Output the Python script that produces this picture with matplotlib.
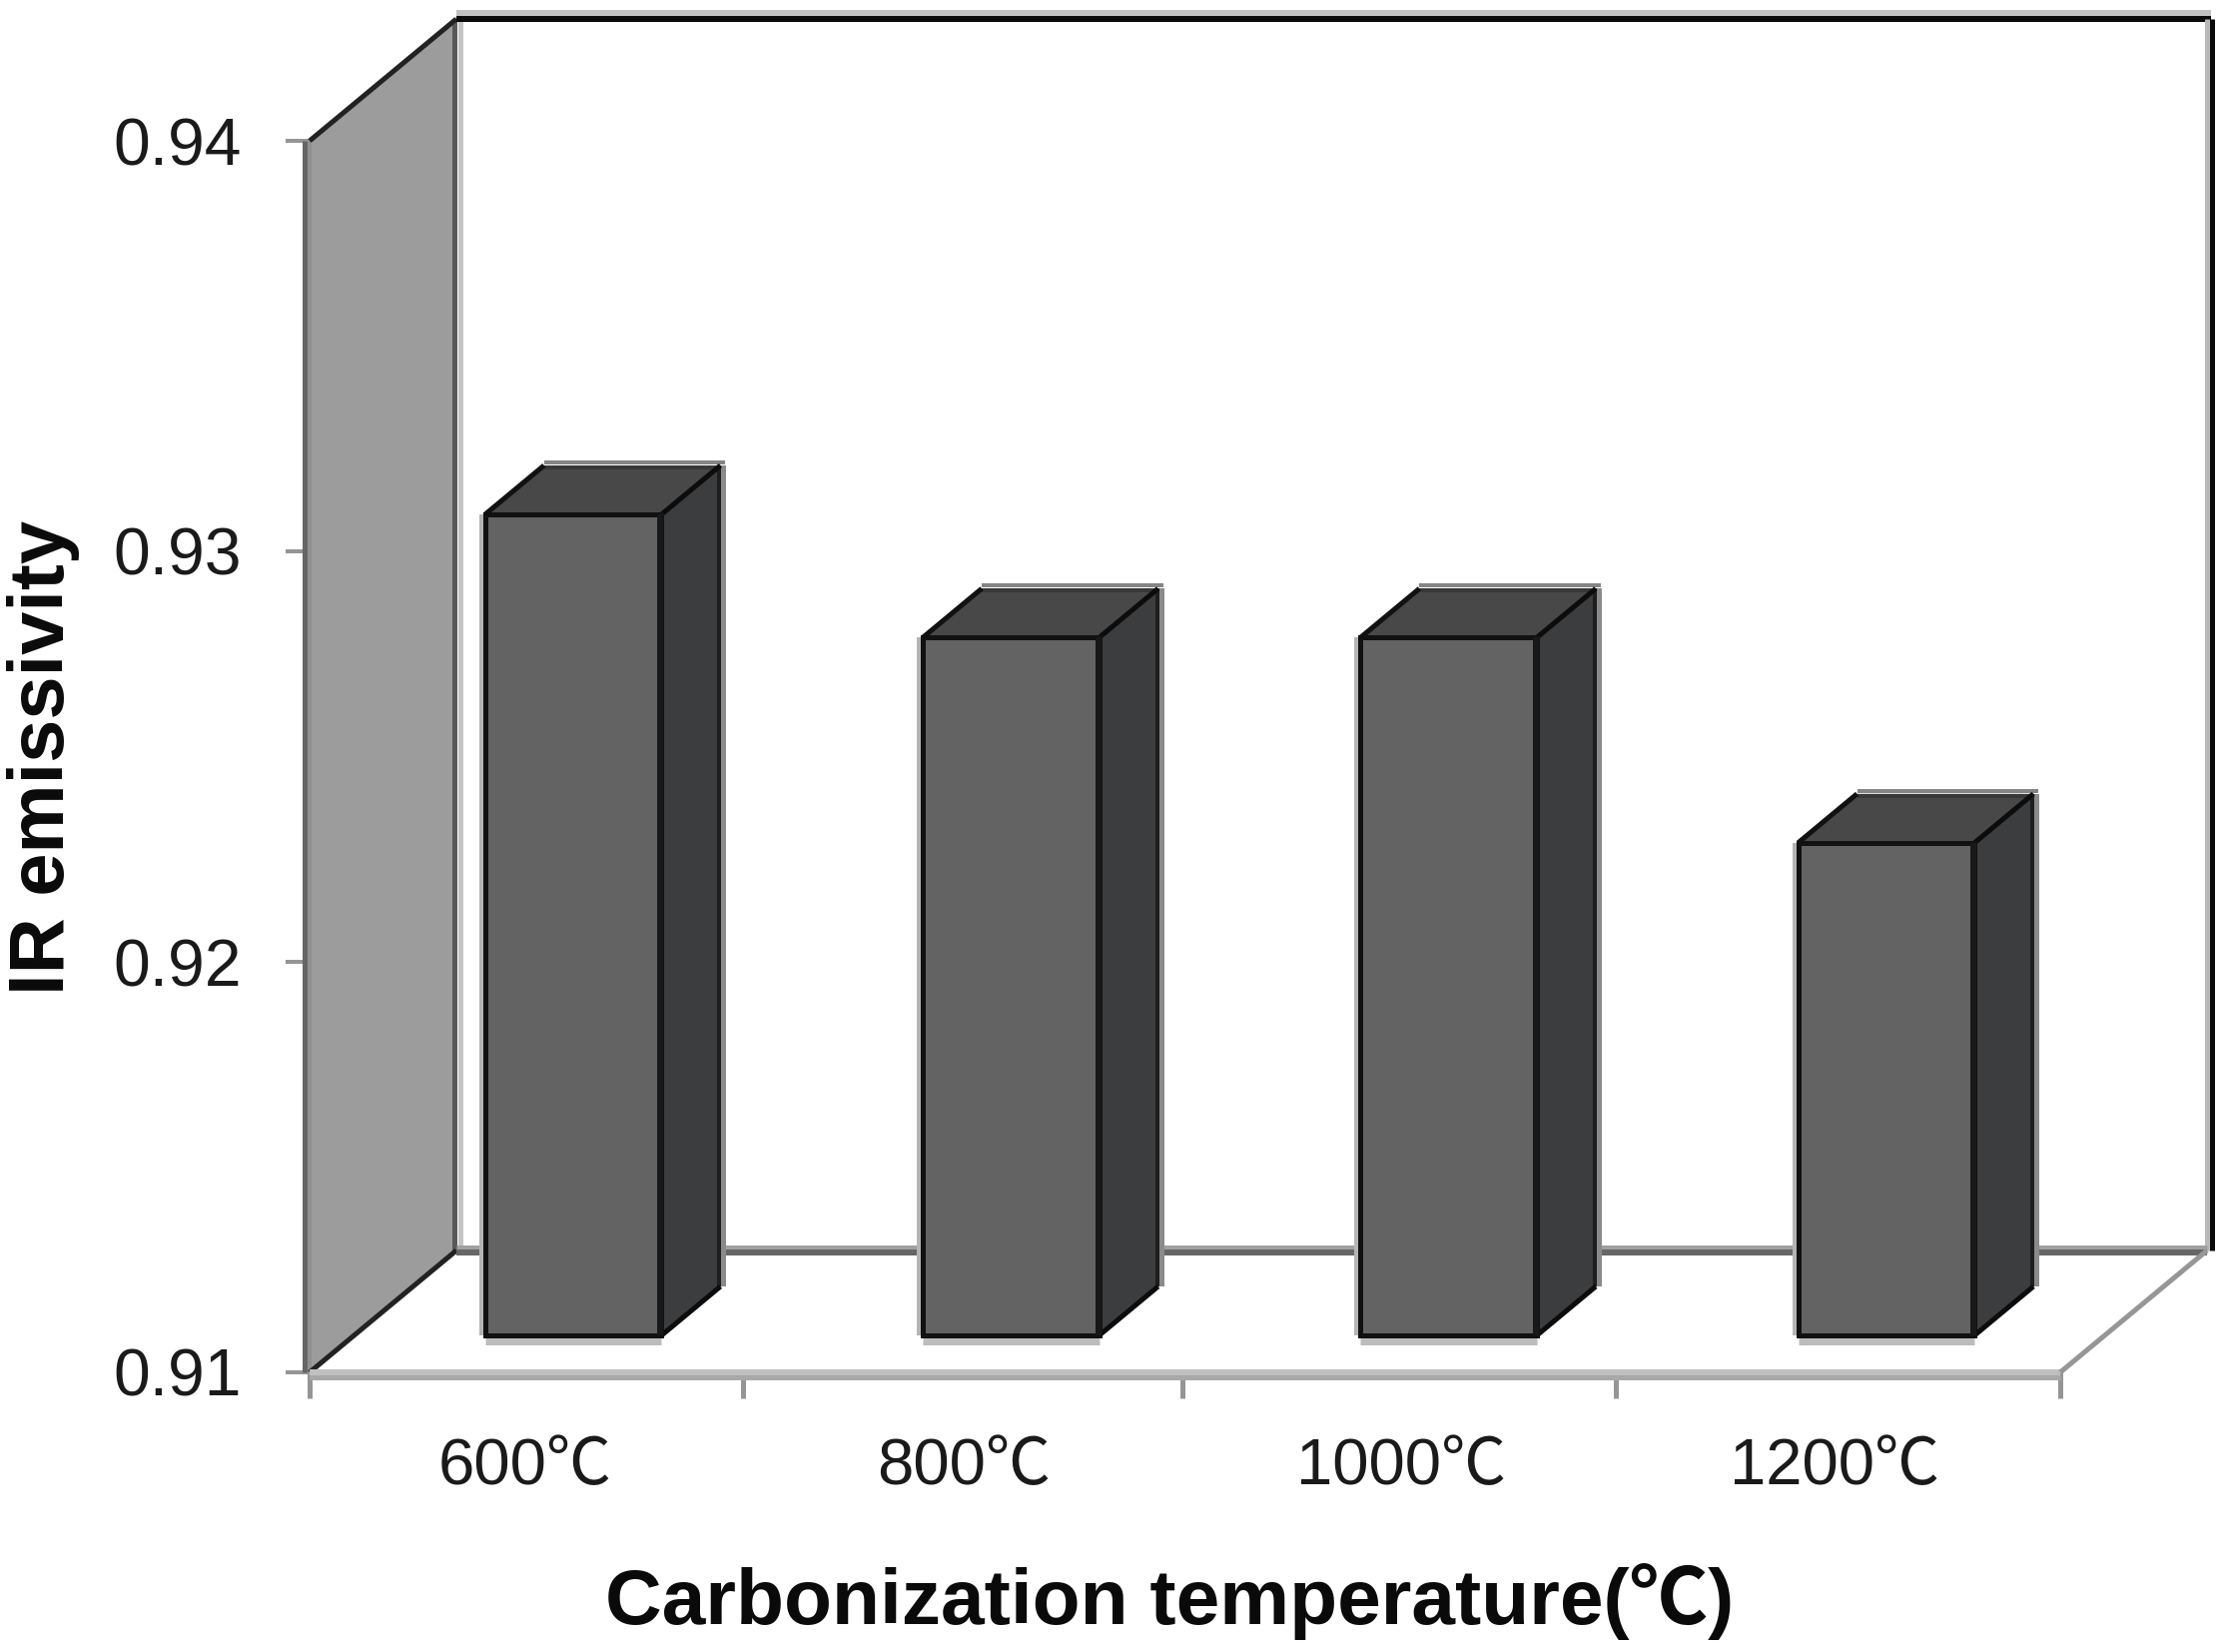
import matplotlib
matplotlib.use("Agg")
import matplotlib.pyplot as plt
from matplotlib.patches import Polygon

categories = ["600℃", "800℃", "1000℃", "1200℃"]
values = [0.930, 0.927, 0.927, 0.922]
y_ticks = [0.91, 0.92, 0.93, 0.94]
y_labels = ["0.91", "0.92", "0.93", "0.94"]
x_title = "Carbonization temperature(℃)"
y_title = "IR emissivity"

W, H = 2232, 1654
FONT = ["Liberation Sans", "Noto Sans CJK KR", "DejaVu Sans"]
plt.rcParams["font.family"] = FONT

fig = plt.figure(figsize=(W / 100, H / 100), dpi=100, facecolor="white")
L, R, T, B = 310, 2063, 141, 1374
ax = fig.add_axes([L / W, 1 - B / H, (R - L) / W, (B - T) / H])
ax.set_xlim(0, 4)
ax.set_ylim(0.91, 0.94)
ax.patch.set_visible(False)
for s in ax.spines.values():
    s.set_visible(False)

PX = 4 / (R - L)
PY = 0.03 / (B - T)
lw = lambda px: px * 0.72


def line(xs, ys, color, px, z=2):
    ax.plot(xs, ys, color=color, lw=lw(px), clip_on=False, zorder=z,
            solid_capstyle="butt", solid_joinstyle="miter")


def poly(pts, color, z=2):
    ax.add_patch(Polygon(pts, closed=True, fc=color, ec="none", clip_on=False, zorder=z))


WX, WY = 147 * PX, 122 * PY   # wall depth
y0, y1 = 0.91, 0.94

# side wall
poly([(0, y0), (WX, y0 + WY), (WX, y1 + WY), (0, y1)], "#9c9c9c", 1)
line([-5 * PX, -5 * PX], [y0, y1], "#666666", 5)
line([0, 0], [y0, y1], "#909090", 4)
line([WX - 2 * PX, WX - 2 * PX], [y0 + WY, y1 + WY], "#585858", 5)
line([WX + 4 * PX, WX + 4 * PX], [y0 + WY, y1 + WY], "#c4c4c4", 5)
line([0, WX], [y1, y1 + WY], "#222222", 5)
line([0, WX], [y0, y0 + WY], "#222222", 5)

# back wall
top = y1 + WY
line([WX, 4 + WX + 4 * PX], [top, top], "#0a0a0a", 6)
line([WX, 4 + WX + 4 * PX], [top + 6 * PY, top + 6 * PY], "#c0c0c0", 6)
line([4 + WX + 5 * PX] * 2, [y0 + WY, top], "#0a0a0a", 5)
line([4 + WX] * 2, [y0 + WY, top], "#b8b8b8", 5)

# floor
line([WX, 4 + WX], [y0 + WY + 3 * PY, y0 + WY + 3 * PY], "#a0a0a0", 5)
line([WX, 4 + WX], [y0 + WY - 2 * PY, y0 + WY - 2 * PY], "#666666", 6)
line([0, 4], [y0, y0], "#c0c0c0", 6)
line([0, 4], [y0 - 5 * PY, y0 - 5 * PY], "#a8a8a8", 5)
line([4, 4 + WX], [y0, y0 + WY], "#969696", 5)

# bars
BW = 0.403
SX, SY = 45 * PX, 37 * PY      # front-face shift
DX, DY = 59 * PX, 49 * PY      # bar depth
xc = [i + 0.5 + SX for i in range(len(values))]
base = y0 + SY
for x, v in zip(xc, values):
    l, r, t = x - BW / 2, x + BW / 2, v + SY
    # soft grey halo around the bar
    line([l - 4 * PX, l - 4 * PX], [base, t], "#b4b4b4", 4, 3)
    line([l, r], [base - 6 * PY, base - 6 * PY], "#bcbcbc", 7, 3)
    line([r + DX + 3 * PX] * 2, [base + DY, t + DY], "#8a8a8a", 6, 3)
    line([l + DX, r + DX + 5 * PX], [t + DY + 3 * PY, t + DY + 3 * PY], "#858585", 4, 3)
    # top and side faces
    poly([(l, t), (l + DX, t + DY), (r + DX, t + DY), (r, t)], "#484848", 4)
    poly([(r, base), (r + DX, base + DY), (r + DX, t + DY), (r, t)], "#3c3d3f", 4)
    line([r + DX - 1 * PX] * 2, [base + DY, t + DY], "#1e1e1e", 4, 5)
    line([l + DX, r + DX], [t + DY - 2 * PY, t + DY - 2 * PY], "#383838", 4, 5)
    line([l, l + DX], [t, t + DY], "#111111", 5, 5)
    line([r, r + DX], [t, t + DY], "#0c0c0c", 5, 5)
    line([r, r + DX], [base, base + DY], "#0c0c0c", 5, 5)
    line([r - 1 * PX] * 2, [base, t], "#181818", 6, 7)

ax.bar(xc, [v - y0 for v in values], width=BW, bottom=base, color="#636363",
       edgecolor="#111111", linewidth=lw(5), clip_on=False, zorder=6)

# ticks and labels
ax.set_yticks(y_ticks, y_labels)
ax.set_xticks([0, 0.99, 1.995, 2.985, 4], [""] * 5)
ax.set_xticks([0.492, 1.494, 2.494, 3.484], categories, minor=True)
ax.tick_params(axis="y", length=lw(24), width=lw(4), color="#959595", pad=lw(44),
               labelsize=47.5, labelcolor="#1a1a1a")
ax.tick_params(axis="x", which="major", length=lw(26), width=lw(5), color="#959595")
ax.tick_params(axis="x", which="minor", length=0, pad=lw(65), labelsize=47,
               labelcolor="#1a1a1a")

fig.text(1171 / W, 1 - 1603 / H, x_title, fontsize=56.5, fontweight="bold", color="#0a0a0a",
         ha="center", va="center", family=FONT)
fig.text(44 / W, 1 - 758 / H, y_title, fontsize=56, fontweight="bold", color="#0a0a0a",
         ha="center", va="center", rotation=90, family=FONT)

fig.savefig("out.png", dpi=100, facecolor="white")
